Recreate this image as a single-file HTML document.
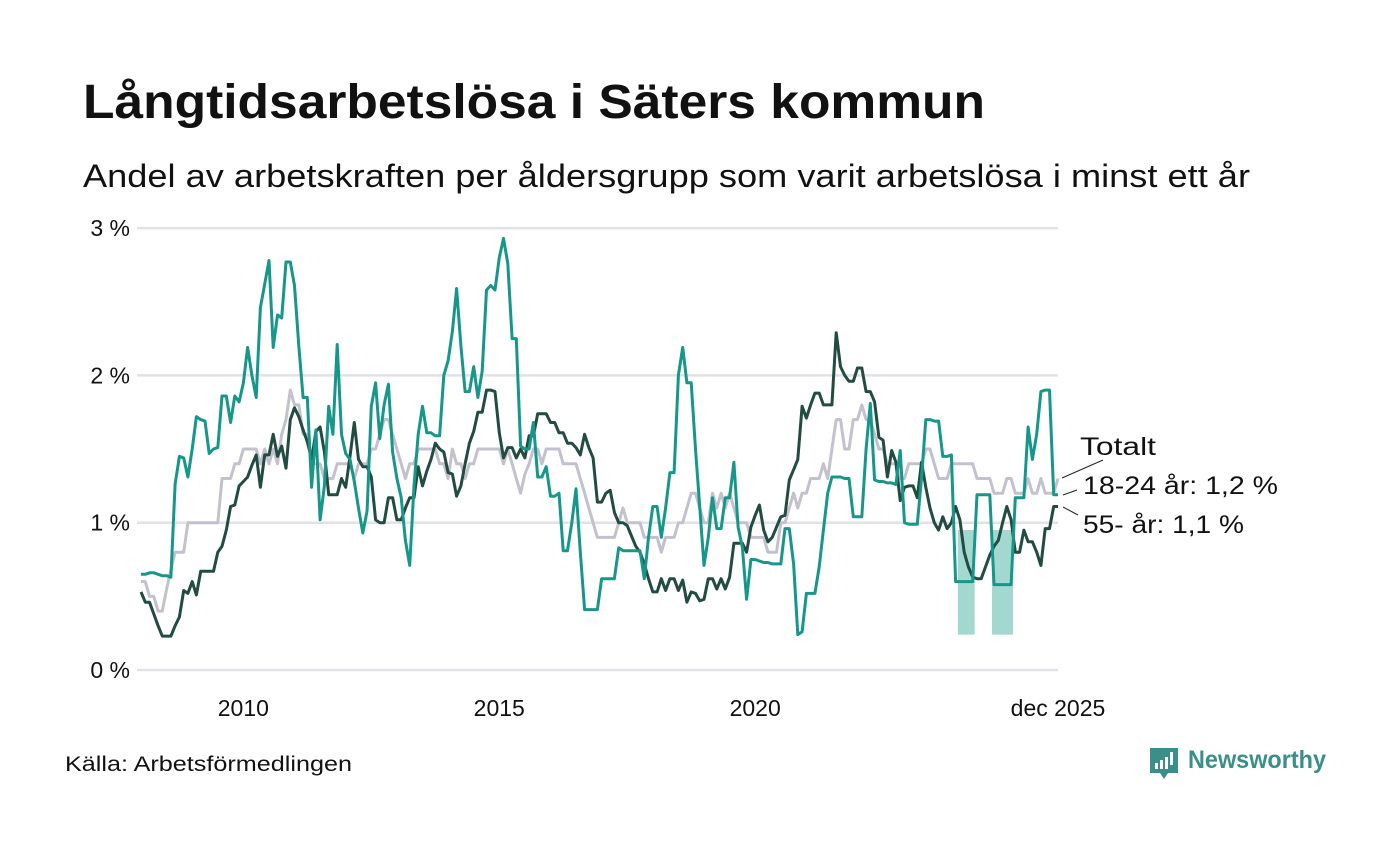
<!DOCTYPE html>
<html><head><meta charset="utf-8"><style>
body{margin:0;background:#fff;width:1400px;height:840px;overflow:hidden;font-family:"Liberation Sans",sans-serif}
</style></head><body>
<svg width="1400" height="840" xmlns="http://www.w3.org/2000/svg">
<text x="83" y="118" font-size="48" font-weight="bold" fill="#111" textLength="902" lengthAdjust="spacingAndGlyphs" font-family="Liberation Sans, sans-serif">Långtidsarbetslösa i Säters kommun</text>
<text x="83" y="187" font-size="32" fill="#111" textLength="1167" lengthAdjust="spacingAndGlyphs" font-family="Liberation Sans, sans-serif">Andel av arbetskraften per åldersgrupp som varit arbetslösa i minst ett år</text>
<g id="grid"></g>
<g id="yticks"></g>
<g id="xticks"></g>
<g id="bands"></g>
<g id="lines"></g>
<g font-size="25" fill="#111" font-family="Liberation Sans, sans-serif">
<text x="1080" y="455" textLength="76" lengthAdjust="spacingAndGlyphs">Totalt</text>
<text x="1083" y="494" textLength="195" lengthAdjust="spacingAndGlyphs">18-24 år: 1,2 %</text>
<text x="1083" y="533" textLength="161" lengthAdjust="spacingAndGlyphs">55- år: 1,1 %</text>
<line x1="1062" y1="478" x2="1103" y2="460" stroke="#222" stroke-width="1"/>
<line x1="1063" y1="495" x2="1077" y2="490" stroke="#222" stroke-width="1"/>
<line x1="1063" y1="507" x2="1078" y2="515" stroke="#222" stroke-width="1"/>
</g>
<text x="65" y="771" font-size="21" fill="#111" textLength="287" lengthAdjust="spacingAndGlyphs" font-family="Liberation Sans, sans-serif">Källa: Arbetsförmedlingen</text>
<g>
<path d="M1150 748 h28 v25 h-10 l-4 6 l-4 -6 h-10 z" fill="#3a9088"/>
<rect x="1155" y="763" width="3" height="6" fill="#fff"/><rect x="1160" y="760" width="3" height="9" fill="#fff"/><rect x="1165" y="757" width="3" height="12" fill="#fff"/><rect x="1170" y="752" width="3" height="13" fill="#fff"/>
<text x="1188" y="768" font-size="25" font-weight="bold" fill="#3a9088" textLength="138" lengthAdjust="spacingAndGlyphs" font-family="Liberation Sans, sans-serif">Newsworthy</text>
</g>
</svg>
<script>
const yTicks=[0,1,2,3];
const yTickLabels=["0 %","1 %","2 %","3 %"];
const xTickYears=[2010,2015,2020];
const xTickLabels=["2010","2015","2020","dec 2025"];
const startYear=2008;
const totalt=[0.6,0.6,0.5,0.5,0.4,0.4,0.55,0.68,0.8,0.8,0.8,1.0,
1.0,1.0,1.0,1.0,1.0,1.0,1.0,1.3,1.3,1.3,1.4,1.4,
1.5,1.5,1.5,1.5,1.4,1.5,1.4,1.5,1.4,1.6,1.7,1.9,
1.8,1.8,1.6,1.6,1.4,1.4,1.4,1.3,1.3,1.3,1.4,1.4,
1.4,1.4,1.3,1.4,1.4,1.4,1.5,1.5,1.6,1.7,1.7,1.6,
1.5,1.4,1.3,1.4,1.4,1.5,1.5,1.5,1.5,1.5,1.4,1.4,
1.3,1.5,1.4,1.4,1.3,1.4,1.4,1.5,1.5,1.5,1.5,1.5,
1.5,1.4,1.5,1.4,1.3,1.2,1.33,1.4,1.5,1.5,1.4,1.5,
1.5,1.5,1.5,1.4,1.4,1.4,1.4,1.3,1.2,1.1,1.0,0.9,
0.9,0.9,0.9,0.9,1.0,1.1,1.0,1.0,1.0,1.0,0.9,0.9,
0.9,0.9,0.8,0.9,0.9,0.9,1.0,1.0,1.1,1.2,1.2,1.1,
1.0,1.0,1.2,1.1,1.2,1.1,1.2,1.1,1.0,1.0,1.0,0.9,
0.9,0.9,0.9,0.8,0.8,0.8,1.0,1.0,1.1,1.2,1.1,1.2,
1.2,1.3,1.3,1.3,1.4,1.3,1.5,1.7,1.7,1.5,1.5,1.7,
1.7,1.8,1.7,1.7,1.6,1.5,1.5,1.4,1.4,1.4,1.3,1.3,
1.4,1.4,1.4,1.4,1.5,1.5,1.4,1.3,1.3,1.3,1.4,1.4,
1.4,1.4,1.4,1.4,1.3,1.3,1.3,1.3,1.2,1.2,1.2,1.3,
1.3,1.2,1.2,1.2,1.3,1.2,1.2,1.3,1.2,1.2,1.2,1.3];
const age55=[0.53,0.46,0.46,0.38,0.3,0.23,0.23,0.23,0.3,0.36,0.54,0.52,
0.6,0.51,0.67,0.67,0.67,0.67,0.8,0.84,0.95,1.11,1.12,1.25,
1.28,1.31,1.39,1.46,1.24,1.46,1.46,1.6,1.45,1.52,1.37,1.7,
1.78,1.72,1.63,1.55,1.43,1.62,1.65,1.48,1.19,1.19,1.19,1.3,
1.24,1.45,1.68,1.43,1.38,1.38,1.31,1.02,1.0,1.0,1.17,1.17,
1.02,1.02,1.1,1.17,1.17,1.38,1.25,1.35,1.43,1.54,1.5,1.48,
1.34,1.33,1.18,1.25,1.4,1.54,1.62,1.75,1.75,1.9,1.9,1.89,
1.61,1.44,1.51,1.51,1.44,1.5,1.44,1.59,1.59,1.74,1.74,1.74,
1.68,1.68,1.61,1.61,1.54,1.54,1.51,1.46,1.6,1.51,1.44,1.14,
1.14,1.2,1.22,1.07,1.0,1.0,0.98,0.91,0.84,0.8,0.72,0.62,
0.53,0.53,0.62,0.54,0.62,0.62,0.54,0.61,0.46,0.53,0.52,0.47,
0.48,0.62,0.62,0.55,0.62,0.55,0.63,0.86,0.86,0.86,0.8,0.97,
1.05,1.12,0.95,0.87,0.9,0.97,1.04,1.05,1.29,1.36,1.43,1.79,
1.71,1.8,1.88,1.88,1.8,1.8,1.8,2.29,2.06,2.0,1.96,1.96,
2.05,2.05,1.89,1.89,1.82,1.58,1.56,1.31,1.49,1.41,1.15,1.24,
1.25,1.25,1.17,1.41,1.24,1.1,1.0,0.95,1.04,0.96,1.0,1.11,
1.02,0.8,0.7,0.63,0.62,0.62,0.7,0.78,0.84,0.88,1.0,1.11,
1.02,0.8,0.8,0.95,0.87,0.87,0.8,0.71,0.96,0.96,1.11,1.11];
const age1824=[0.65,0.65,0.66,0.66,0.65,0.64,0.64,0.63,1.26,1.45,1.44,1.31,
1.5,1.72,1.70,1.69,1.47,1.5,1.51,1.86,1.86,1.68,1.86,1.82,
1.95,2.19,2.0,1.85,2.46,2.62,2.78,2.19,2.41,2.39,2.77,2.77,
2.61,2.2,1.85,1.85,1.24,1.63,1.02,1.25,1.79,1.6,2.21,1.6,
1.47,1.43,1.28,1.1,0.93,1.08,1.79,1.95,1.57,1.8,1.94,1.48,
1.3,1.17,0.88,0.71,1.25,1.6,1.79,1.61,1.61,1.59,1.59,2.0,
2.1,2.3,2.59,2.2,1.89,1.89,2.06,1.85,2.03,2.58,2.61,2.58,
2.8,2.93,2.76,2.25,2.25,1.52,1.5,1.5,1.68,1.31,1.31,1.38,
1.18,1.18,1.2,0.81,0.81,1.0,1.23,0.8,0.41,0.41,0.41,0.41,
0.62,0.62,0.62,0.62,0.83,0.81,0.81,0.81,0.81,0.81,0.62,0.9,
1.11,1.11,0.9,1.1,1.34,1.34,2.0,2.19,1.95,1.95,1.5,1.11,
0.71,0.9,1.17,0.96,0.96,1.17,1.17,1.41,0.97,0.83,0.48,0.75,
0.75,0.74,0.73,0.73,0.72,0.72,0.72,0.96,0.96,0.72,0.24,0.26,
0.52,0.52,0.52,0.7,0.95,1.2,1.31,1.31,1.31,1.3,1.3,1.04,
1.04,1.04,1.5,1.81,1.29,1.28,1.28,1.27,1.27,1.26,1.49,1.0,
0.99,0.99,0.99,1.3,1.7,1.7,1.69,1.69,1.45,1.45,1.46,0.6,
0.6,0.6,0.6,0.6,1.19,1.19,1.19,1.19,0.58,0.58,0.58,0.58,
0.58,1.17,1.17,1.17,1.65,1.43,1.6,1.89,1.9,1.9,1.19,1.19];
const bandStart=[192,200];
const bandEnd=[195,204];
const bandLo=[0.24,0.24];
const bandHi=[0.95,0.95];

const NS="http://www.w3.org/2000/svg";
const X0=141,X1=1058,Y0=670,YPER=147.3;
const nMonths=totalt.length;
function x(i){return X0+(X1-X0)*i/(nMonths-1);}
function y(v){return Y0-v*YPER;}
function mk(tag,attrs,parent){const e=document.createElementNS(NS,tag);for(const k in attrs)e.setAttribute(k,attrs[k]);parent.appendChild(e);return e;}
const grid=document.getElementById('grid'),yt=document.getElementById('yticks'),xt=document.getElementById('xticks');
yTicks.forEach((t,k)=>{
  const l=mk('line',{x1:137,x2:1058,y1:y(t),y2:y(t),stroke:'#e2e1e8','stroke-width':2.5},grid);
  
  
  const tx=mk('text',{x:130,y:y(t)+8,'text-anchor':'end','font-size':23,fill:'#111'},yt);
  tx.textContent=yTickLabels[k];
  
  
});
xTickYears.forEach((yr,k)=>{
  const tx=mk('text',{x:x((yr-startYear)*12),y:716,'text-anchor':'middle','font-size':23,fill:'#111'},xt);
  tx.textContent=xTickLabels[k];
  
  
});
const lt=mk('text',{x:x(nMonths-1),y:716,'text-anchor':'middle','font-size':23,fill:'#111'},xt);
lt.textContent=xTickLabels[3];


const bands=document.getElementById('bands');
bandStart.forEach((s,k)=>{
  const r=mk('rect',{x:x(s)-2,y:y(bandHi[k]),width:x(bandEnd[k])-x(s)+4,height:y(bandLo[k])-y(bandHi[k]),fill:'#a3d8d0'},bands);
  
  
});
const lines=document.getElementById('lines');
function drawLine(data,color,name){
  const d=data.map((v,i)=>(i?'L':'M')+x(i).toFixed(1)+' '+y(v).toFixed(1)).join(' ');
  const p=mk('path',{d:d,fill:'none',stroke:color,'stroke-width':3,'stroke-linejoin':'round'},lines);
  
  
}
drawLine(totalt,'#c3c1ce','line-totalt');
drawLine(age55,'#224b42','line-55');
drawLine(age1824,'#16978a','line-18-24');
</script>
</body></html>
